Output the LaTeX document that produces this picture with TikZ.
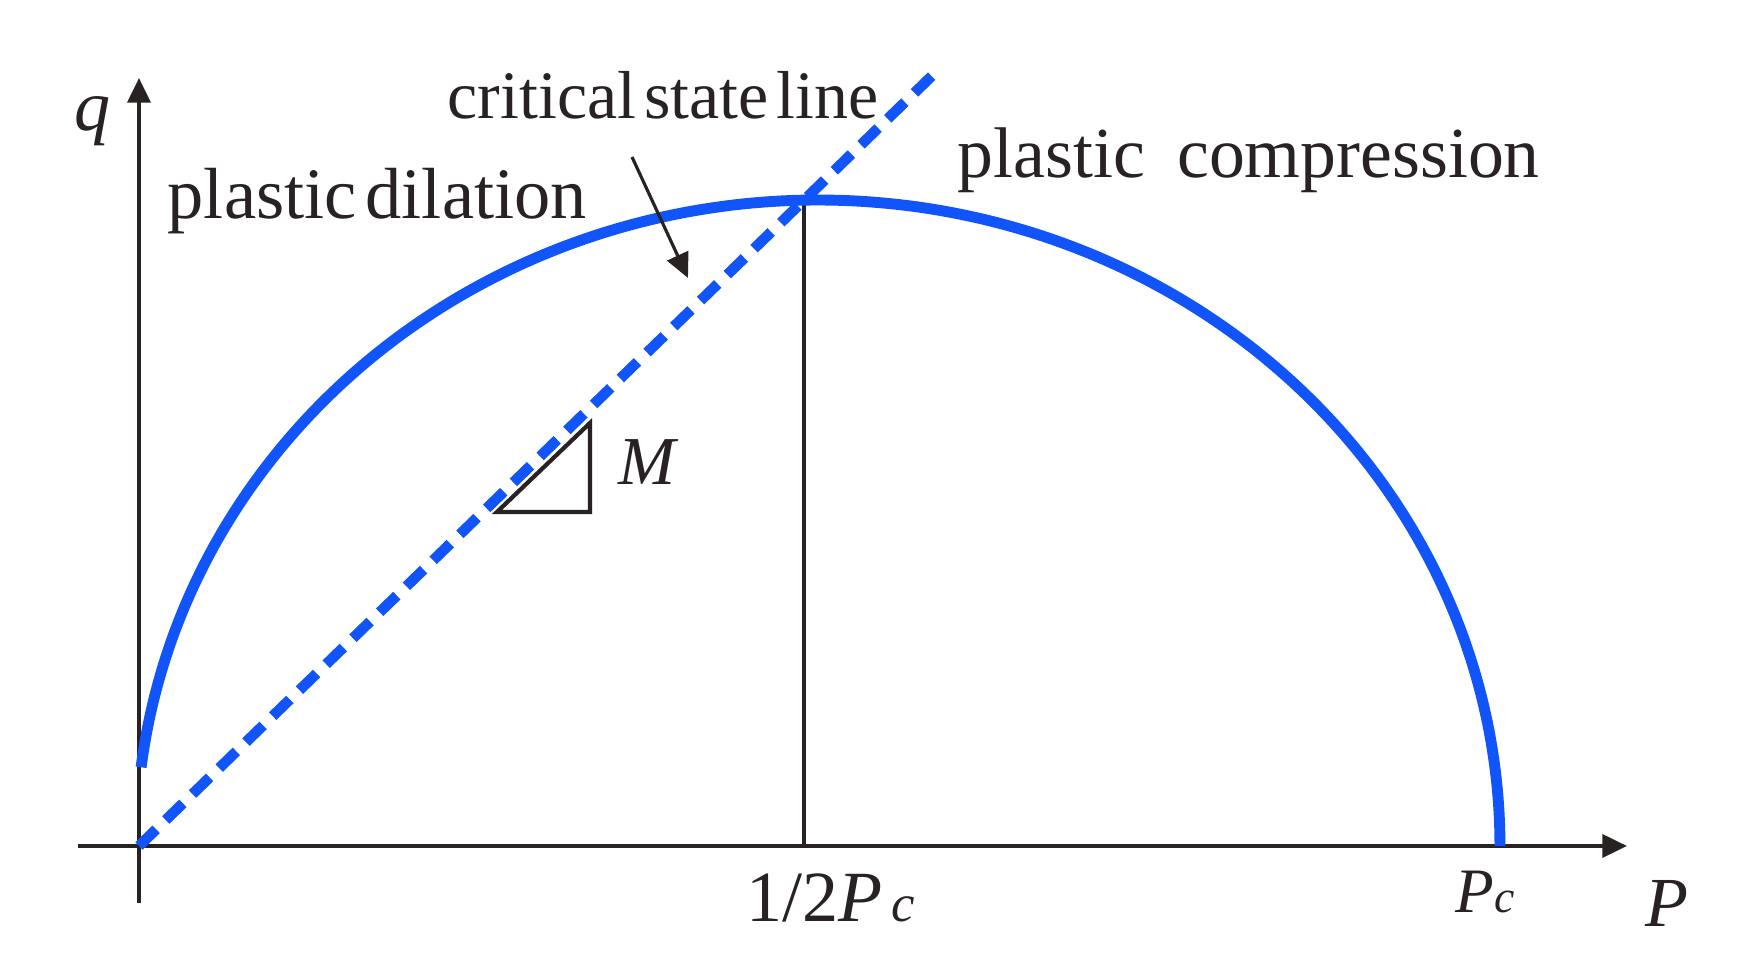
\documentclass[tikz,border=0pt]{standalone}
\usepackage{fontspec}
\setmainfont{Liberation Serif}
\usetikzlibrary{arrows.meta}
\definecolor{ink}{RGB}{40,34,34}
\definecolor{cblue}{RGB}{16,84,250}
\begin{document}
\begin{tikzpicture}[x=0.01cm,y=-0.01cm,
  axisline/.style={draw=ink, line width=1.15pt, -{Triangle[length=7pt,width=6.5pt]}},
  thinline/.style={draw=ink, line width=1pt},
  pointer/.style={draw=ink, line width=0.9pt, -{Triangle[length=7pt,width=6.5pt]}},
  yieldcurve/.style={draw=cblue, line width=3.1pt},
  csl/.style={draw=cblue, line width=3pt, dash pattern=on 6.8pt off 3.8pt},
  lbl/.style={inner sep=0pt, anchor=base west, text=ink},
  mlbl/.style={inner sep=0pt, anchor=base west, text=ink, font=\fontsize{18}{20}\selectfont}]
\useasboundingbox (0,0) rectangle (1741,971);
% axes
\coordinate (O) at (139,846);
\coordinate (xs) at (78,846);
\coordinate (xe) at (1627,846);
\coordinate (ys) at (139,903);
\coordinate (ye) at (139,78);
\draw[axisline] (xs) -- (xe);
\draw[axisline] (ys) -- (ye);
% half Pc line
\coordinate (hb) at (804,846);
\coordinate (ht) at (804,201);
\draw[thinline] (hb) -- (ht);
% slope triangle
\coordinate (t1) at (497,512);
\coordinate (t2) at (590,423);
\coordinate (t3) at (590,512);
\draw[thinline, line width=1.2pt] (t1) -- (t2) -- (t3) -- cycle;
% yield curve
\draw[yieldcurve] plot[domain=173:0, samples=140, smooth] ({818+682*cos(\x)}, {846-646*sin(\x)});
% critical state line
\coordinate (ce) at (938,70);
\draw[csl] (O) -- (ce);
% pointer
\coordinate (ps) at (632,157);
\coordinate (pe) at (688,278);
\draw[pointer] (ps) -- (pe);
% labels
\node[lbl] (qlab) at (74,131) {\fontsize{20.5}{22}\selectfont\textit{q}};
\node[lbl] (dil) at (167,219) {\fontsize{20.6}{22}\selectfont plastic\hspace{0.12em}dilation};
\node[lbl] (cslab) at (447,119) {\fontsize{19.3}{22}\selectfont critical\hspace{0.12em}state\hspace{0.12em}line};
\node[lbl] (comp) at (957,178) {\fontsize{20.4}{22}\selectfont plastic\hspace{0.45em}compression};
\node[lbl] (mlab) at (618,485) {\fontsize{19.5}{22}\selectfont\textit{M}};
\node[mlbl] (half) at (746,922) {\fontsize{20.5}{22}\selectfont 1/2\textit{P}\hspace{0.12em}{\fontsize{15}{15}\selectfont\textit{c}}};
\node[mlbl] (pc) at (1455,913) {\textit{P}{\fontsize{13}{13}\selectfont\textit{c}}};
\node[mlbl] (plab) at (1645,927) {\fontsize{20}{22}\selectfont\textit{P}};
\end{tikzpicture}
\end{document}
